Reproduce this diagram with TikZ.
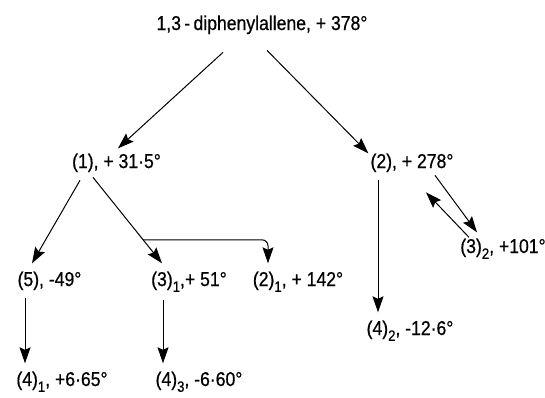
\documentclass[tikz,border=0pt]{standalone}
\usepackage{fontspec}
\setmainfont{Liberation Sans}[FakeStretch=0.88,FakeBold=0.6]
\usetikzlibrary{arrows.meta, positioning, calc}
\newcommand{\idx}[1]{\raisebox{-0.55ex}{\fontsize{15}{15}\selectfont #1}}
\tikzset{
  lbl/.style={anchor=base,inner xsep=2pt,inner ysep=8pt,
    font=\fontsize{20}{23}\selectfont},
  ar/.style={-{Stealth[length=16pt,width=11pt,inset=2.5pt]},line width=1pt,draw=black}
}
\begin{document}
\begin{tikzpicture}[x=1pt,y=-1pt]
\useasboundingbox (0,0) rectangle (545,397);
% compounds with rotations
\node[lbl] (top) at (262,30) {1,3\,-\,diphenylallene, + 378°};
\node[lbl] (n1) at (116.5,168) {(1), + 31·5°};
\node[lbl] (n2) at (412,168) {(2), + 278°};
\node[lbl] (n5) at (49.5,286) {(5), -49°};
\node[lbl] (n31) at (189,286) {(3)\idx{1},+ 51°};
\node[lbl] (n21) at (298,286) {(2)\idx{1}, + 142°};
\node[lbl] (n41) at (62,386) {(4)\idx{1}, +6·65°};
\node[lbl] (n43) at (199,386) {(4)\idx{3}, -6·60°};
\node[lbl] (n42) at (410,335) {(4)\idx{2}, -12·6°};
\node[lbl] (n32) at (503,253) {(3)\idx{2}, +101°};
% reactions
\draw[ar] ([xshift=-39pt,yshift=-10pt]top.south) -- ([xshift=1.5pt,yshift=-3pt]n1.north);
\draw[ar] ([xshift=5pt,yshift=-8pt]top.south) -- ([yshift=-8pt]n2.north west);
\draw[ar] ([xshift=-36.5pt]n1.south) -- ([xshift=-17.5pt]n5.north);
\draw[ar] ([xshift=-23.5pt,yshift=3pt]n1.south) -- coordinate[pos=0.727] (br) ([xshift=-27pt]n31.north);
\draw[ar,rounded corners=6pt] (br) -| ([xshift=-30pt]n21.north);
\draw[ar] ([xshift=-24.5pt]n5.south) -- ([xshift=-24.5pt]n5.south |- n41.north);
\draw[ar] ([xshift=-26pt]n31.south) -- ([xshift=-26pt]n31.south |- n43.north);
\draw[ar] ([xshift=-34pt]n2.south) -- ([xshift=-34pt]n2.south |- n42.north);
\draw[ar] ([xshift=23pt,yshift=5pt]n2.south) -- ([xshift=-26pt,yshift=-2pt]n32.north);
\draw[ar] ([xshift=-34pt,yshift=-7pt]n32.north) -- ([xshift=14pt,yshift=-12pt]n2.south);
\end{tikzpicture}
\end{document}
